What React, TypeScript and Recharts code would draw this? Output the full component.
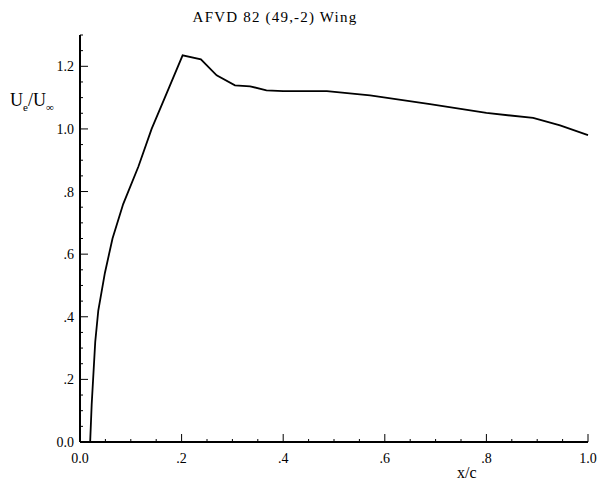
import React from 'react'
import { LineChart, Line, XAxis, YAxis } from 'recharts'

// x/c stations and edge velocity ratio Ue/Uinf
const xc = [0.02, 0.023, 0.03, 0.036, 0.049, 0.064, 0.085, 0.115, 0.141, 0.167, 0.202, 0.238, 0.269, 0.305, 0.335, 0.367, 0.4, 0.486, 0.571, 0.689, 0.8, 0.892, 0.945, 1.0]
const ueRatio = [0.0, 0.12, 0.32, 0.42, 0.54, 0.65, 0.76, 0.88, 1.0, 1.1, 1.235, 1.222, 1.171, 1.139, 1.136, 1.123, 1.121, 1.121, 1.107, 1.079, 1.051, 1.035, 1.011, 0.98]

const xMajor = [0, 0.2, 0.4, 0.6, 0.8, 1.0]
const xMajorLabels = ['0.0', '.2', '.4', '.6', '.8', '1.0']
const xTicks = [0, 0.05, 0.1, 0.15, 0.2, 0.25, 0.3, 0.35, 0.4, 0.45, 0.5, 0.55, 0.6, 0.65, 0.7, 0.75, 0.8, 0.85, 0.9, 0.95, 1.0]

const yMajor = [0, 0.2, 0.4, 0.6, 0.8, 1.0, 1.2]
const yMajorLabels = ['0.0', '.2', '.4', '.6', '.8', '1.0', '1.2']
const yTicks = [0, 0.05, 0.1, 0.15, 0.2, 0.25, 0.3, 0.35, 0.4, 0.45, 0.5, 0.55, 0.6, 0.65, 0.7, 0.75, 0.8, 0.85, 0.9, 0.95, 1.0, 1.05, 1.1, 1.15, 1.2, 1.25, 1.3]

const chartData = xc.map((x, i) => ({ x, u: ueRatio[i] }))

const font = '"Liberation Serif", "DejaVu Serif", serif'

const findMajor = (list: number[], v: number) => list.findIndex((m) => Math.abs(m - v) < 1e-6)

const XTick = (props: any) => {
  const { x, y, payload } = props
  const idx = findMajor(xMajor, payload.value)
  const major = idx >= 0
  return (
    <g>
      <line x1={x} x2={x} y1={y} y2={y - (major ? 8 : 3)} stroke="#000" strokeWidth={1} />
      {major && (
        <text x={x} y={y + 21} textAnchor="middle" fontFamily={font} fontSize={14} fill="#000">
          {xMajorLabels[idx]}
        </text>
      )}
    </g>
  )
}

const YTick = (props: any) => {
  const { x, y, payload } = props
  const idx = findMajor(yMajor, payload.value)
  const major = idx >= 0
  return (
    <g>
      <line x1={x} x2={x + (major ? 8 : 3)} y1={y} y2={y} stroke="#000" strokeWidth={1} />
      {major && (
        <text x={x - 6} y={y + 5} textAnchor="end" fontFamily={font} fontSize={14} fill="#000">
          {yMajorLabels[idx]}
        </text>
      )}
    </g>
  )
}

export default function App() {
  return (
    <div style={{ position: 'absolute', left: 0, top: 0, width: 602, height: 484, background: '#fff', fontFamily: font }}>
      <div style={{ position: 'absolute', left: 0, width: 550, top: 9, textAlign: 'center', fontSize: 15, letterSpacing: 1.2 }}>
        AFVD 82 (49,-2) Wing
      </div>
      <div style={{ position: 'absolute', left: 10, top: 90, fontSize: 18, whiteSpace: 'nowrap' }}>
        U<sub style={{ fontSize: 11 }}>e</sub>/U<sub style={{ fontSize: 11 }}>∞</sub>
      </div>
      <div style={{ position: 'absolute', left: 457, top: 464, fontSize: 16 }}>x/c</div>
      <LineChart width={602} height={484} data={chartData} margin={{ top: 35, right: 14, bottom: 12, left: 40 }}>
        <XAxis
          dataKey="x"
          type="number"
          domain={[0, 1]}
          ticks={xTicks}
          interval={0}
          height={30}
          tickSize={0}
          tickMargin={0}
          tickLine={false}
          axisLine={{ stroke: '#000', strokeWidth: 2 }}
          tick={<XTick />}
        />
        <YAxis
          type="number"
          domain={[0, 1.3]}
          ticks={yTicks}
          interval={0}
          width={40}
          tickSize={0}
          tickMargin={0}
          tickLine={false}
          axisLine={{ stroke: '#000', strokeWidth: 2 }}
          tick={<YTick />}
        />
        <Line type="linear" dataKey="u" stroke="#000" strokeWidth={1.8} dot={false} isAnimationActive={false} />
      </LineChart>
    </div>
  )
}
